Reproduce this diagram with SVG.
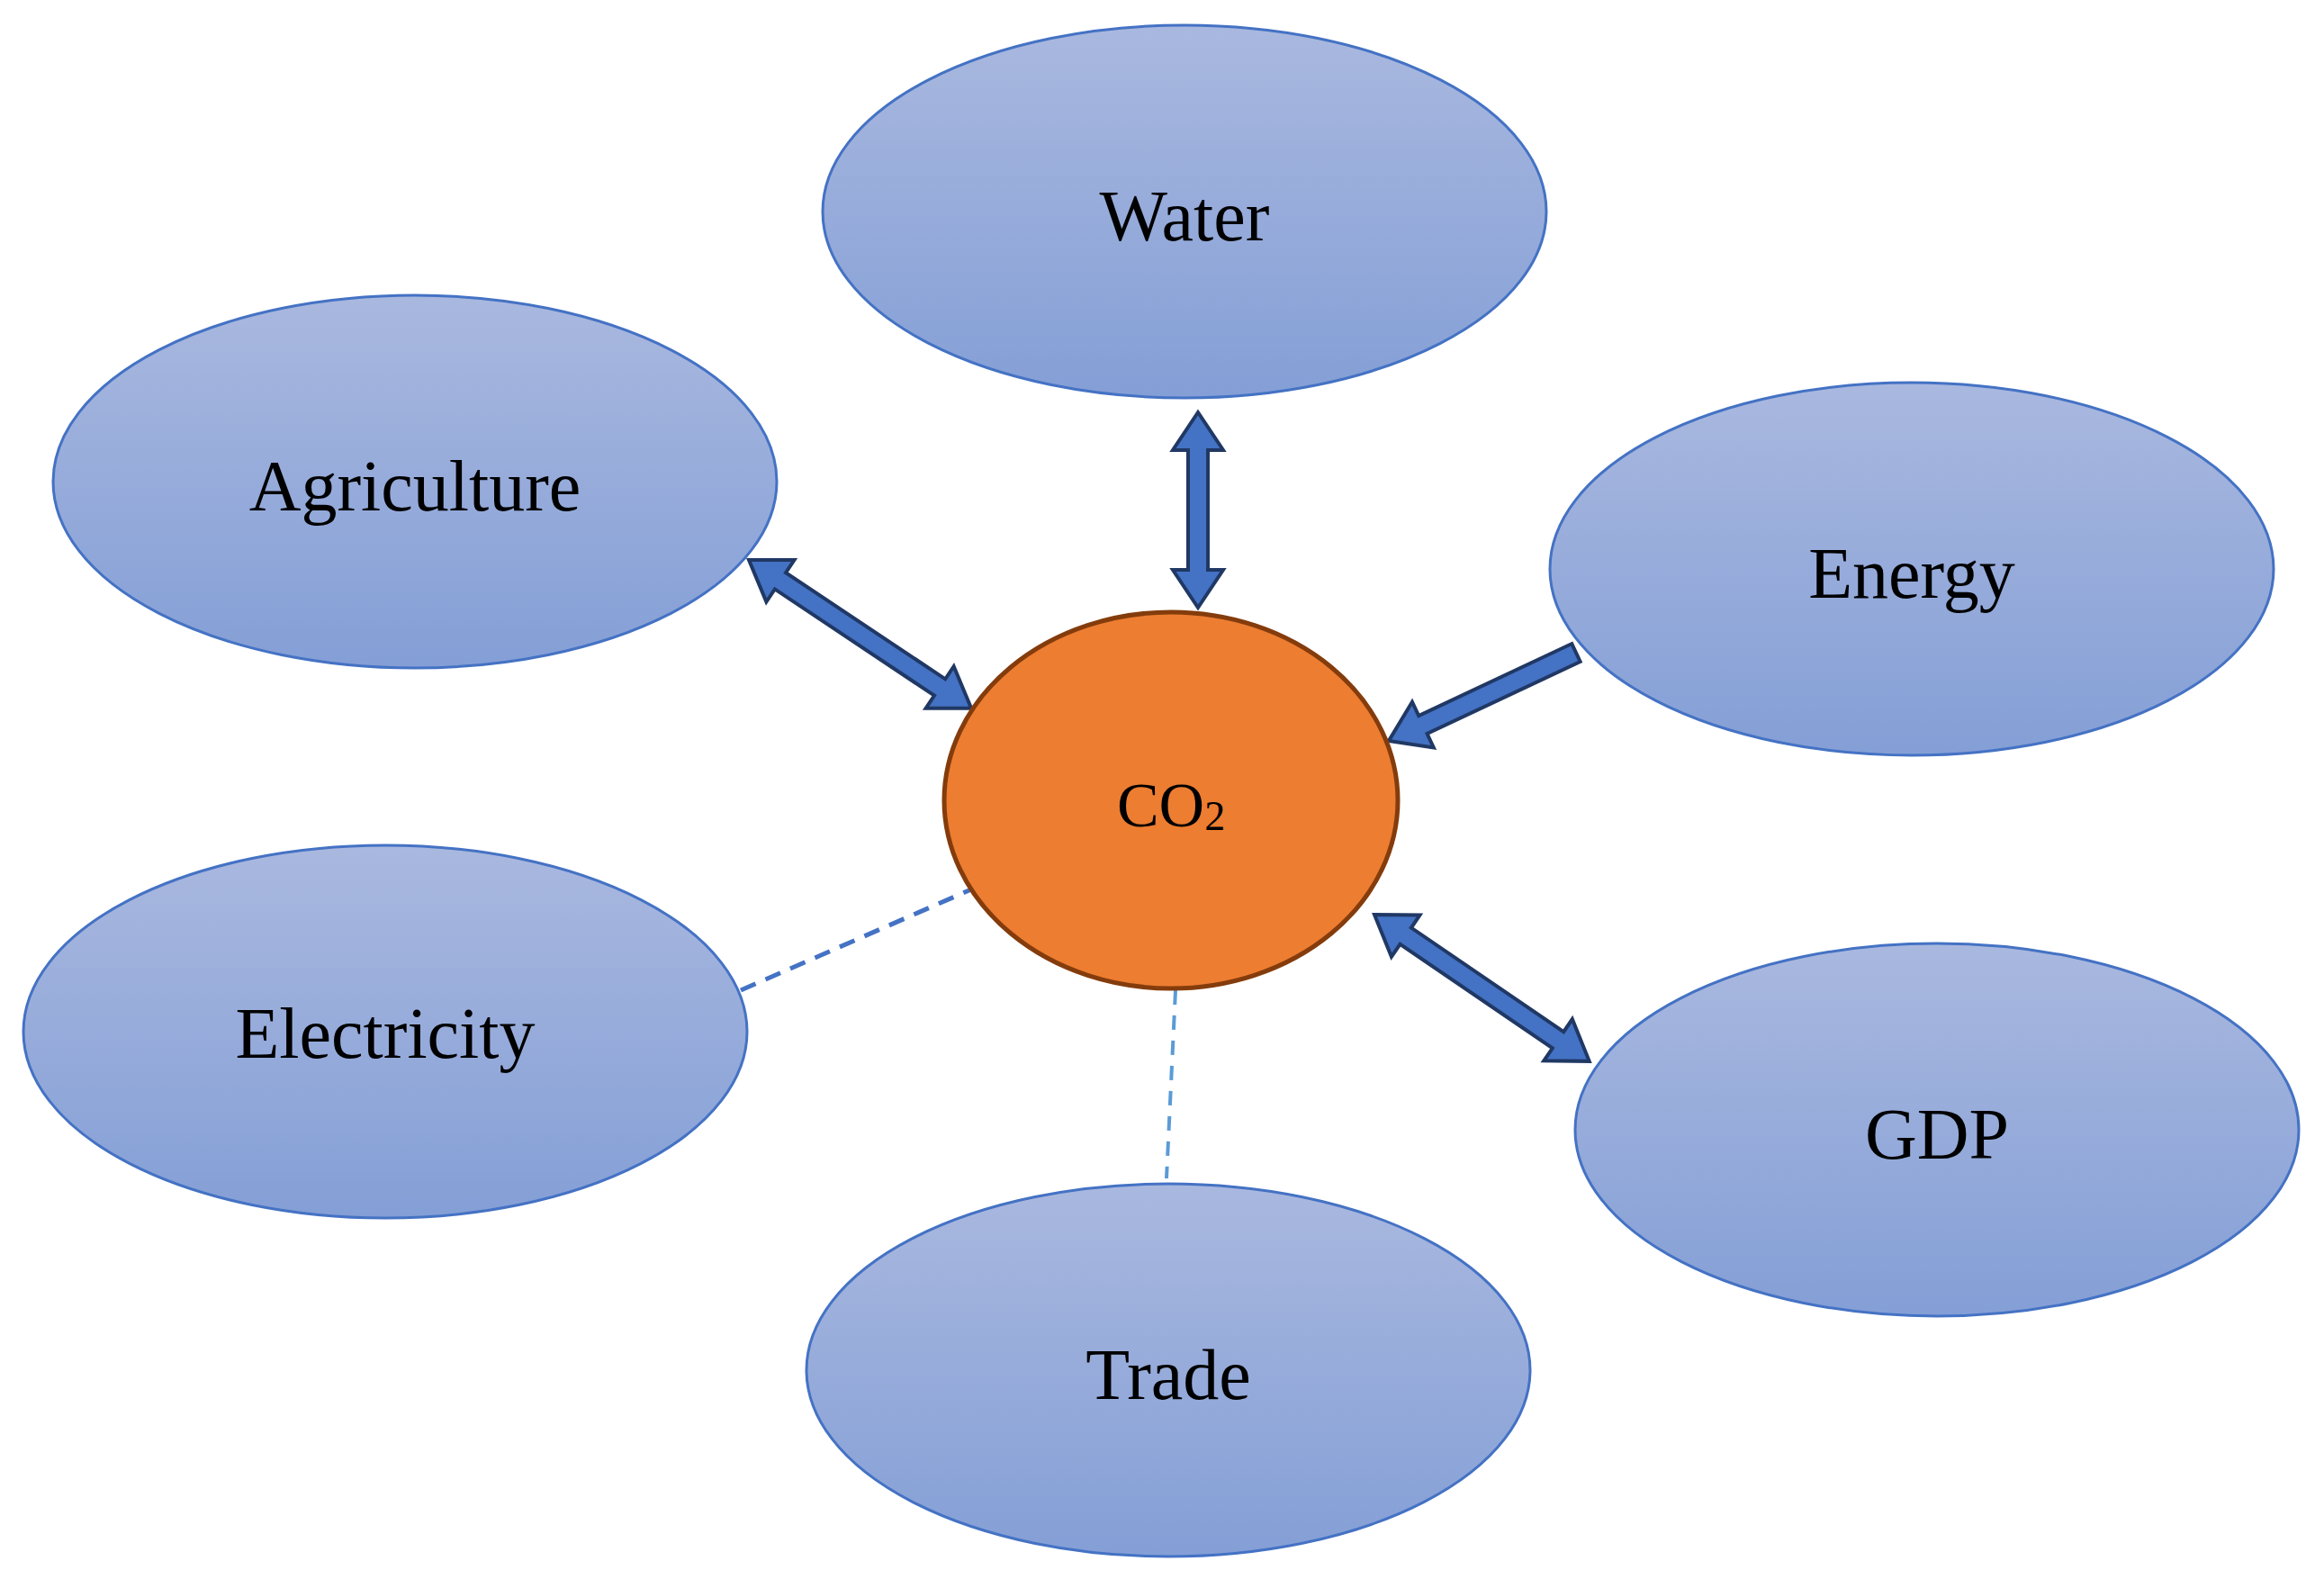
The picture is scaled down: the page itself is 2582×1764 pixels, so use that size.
<svg xmlns="http://www.w3.org/2000/svg" width="2582" height="1764" viewBox="0 0 2582 1764">
<style>
.n{fill:url(#g);stroke:#4472C4;stroke-width:3}
.t{font-family:"Liberation Serif",serif;font-size:80px;fill:#000;text-anchor:middle;dominant-baseline:central}
.a{fill:#4472C4;stroke:#203864;stroke-width:4;stroke-linejoin:miter}
</style>
<defs><linearGradient id="g" x1="0" y1="0" x2="0" y2="1"><stop offset="0" stop-color="#a9b8df"/><stop offset="1" stop-color="#849fd6"/></linearGradient></defs>
<rect width="2582" height="1764" fill="#fff"/>
<g id="connectors">
<line x1="823" y1="1100" x2="1079" y2="988" stroke="#4472C4" stroke-width="5" stroke-dasharray="18,12"/>
<line x1="1306" y1="1100" x2="1296" y2="1309" stroke="#5B9BD5" stroke-width="4" stroke-dasharray="16,12"/>
<polygon class="a" transform="translate(1331,458) rotate(90)" points="0,0 42,-28 42,-11 175,-11 175,-28 217,0 175,28 175,11 42,11 42,28"/>
<polygon class="a" transform="translate(832,622) rotate(33.7)" points="0,0 42,-28 42,-11 255,-11 255,-28 297,0 255,28 255,11 42,11 42,28"/>
<polygon class="a" transform="translate(1751,725) rotate(154.8)" points="0,-11 188,-11 188,-28 230,0 188,28 188,11 0,11"/>
<polygon class="a" transform="translate(1527,1016) rotate(34.3)" points="0,0 42,-28 42,-11 247,-11 247,-28 289,0 247,28 247,11 42,11 42,28"/>
</g>
<g id="water"><ellipse class="n" cx="1316" cy="235" rx="402" ry="207"/><text class="t" x="1316" y="240">Water</text></g>
<g id="agriculture"><ellipse class="n" cx="461" cy="535" rx="402" ry="207"/><text class="t" x="461" y="540">Agriculture</text></g>
<g id="energy"><ellipse class="n" cx="2124" cy="632" rx="402" ry="207"/><text class="t" x="2124" y="637">Energy</text></g>
<g id="electricity"><ellipse class="n" cx="428" cy="1146" rx="402" ry="207"/><text class="t" x="428" y="1148">Electricity</text></g>
<g id="gdp"><ellipse class="n" cx="2152" cy="1255" rx="402" ry="207"/><text class="t" x="2152" y="1260">GDP</text></g>
<g id="trade"><ellipse class="n" cx="1298" cy="1522" rx="402" ry="207"/><text class="t" x="1298" y="1527">Trade</text></g>
<g id="co2"><ellipse cx="1301" cy="889" rx="252" ry="209" fill="#ED7D31" stroke="#843C0C" stroke-width="5"/><text class="t" x="1301" y="894" style="font-size:70px">CO<tspan style="font-size:46px" dy="12">2</tspan></text></g>
</svg>
